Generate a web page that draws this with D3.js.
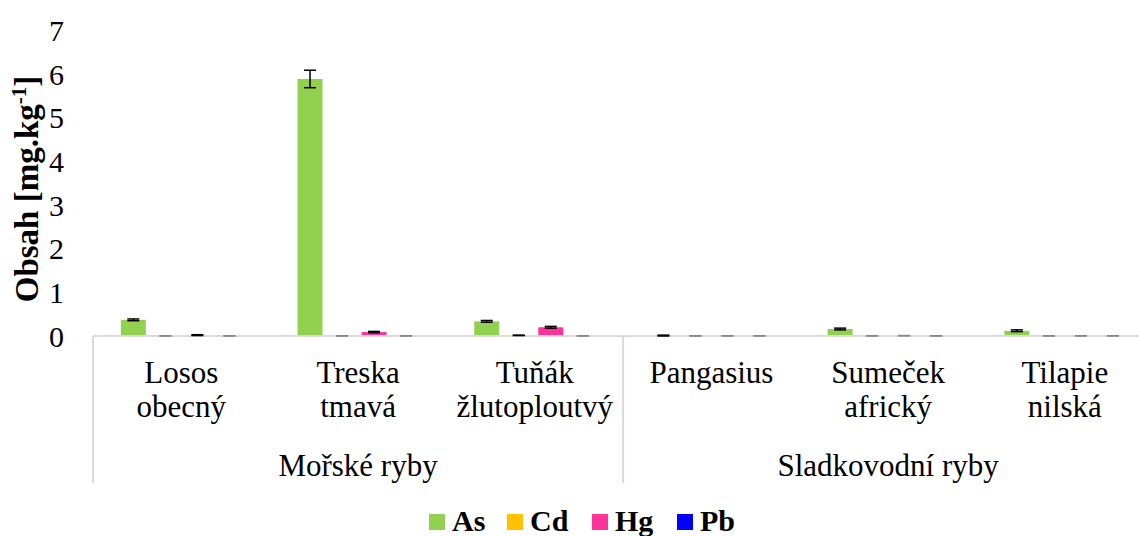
<!DOCTYPE html>
<html>
<head>
<meta charset="utf-8">
<script src="https://cdn.jsdelivr.net/npm/d3@7"></script>
<style>
  body { margin: 0; background: #fff; }
</style>
</head>
<body>
<div id="chart"></div>
<script>
// fish species (two-line labels) and their group
var fish = ["Losos obecný", "Treska tmavá", "Tuňák žlutoploutvý", "Pangasius", "Sumeček africký", "Tilapie nilská"];
var fishLines = [["Losos", "obecný"], ["Treska", "tmavá"], ["Tuňák", "žlutoploutvý"], ["Pangasius"], ["Sumeček", "africký"], ["Tilapie", "nilská"]];
var groups = ["Mořské ryby", "Sladkovodní ryby"];
var groupSize = [3, 3];

var elements = ["As", "Cd", "Hg", "Pb"];
var colors = ["#92d050", "#ffc000", "#ff3399", "#0000ff"];

// mean content [mg/kg] per element, in fish order
var asVals = [0.37, 5.88, 0.335, 0.01, 0.16, 0.12];
var cdVals = [0.004, 0.004, 0.015, 0.003, 0.004, 0.003];
var hgVals = [0.02, 0.09, 0.2, 0.004, 0.008, 0.004];
var pbVals = [0.004, 0.004, 0.004, 0.004, 0.004, 0.004];
// error (+/-)
var asErr = [0.02, 0.2, 0.02, 0.01, 0.02, 0.02];
var cdErr = [0.002, 0.002, 0.005, 0.002, 0.003, 0.002];
var hgErr = [0.01, 0.015, 0.02, 0.002, 0.003, 0.002];
var pbErr = [0.002, 0.002, 0.002, 0.002, 0.002, 0.002];

var yTicks = [0, 1, 2, 3, 4, 5, 6, 7];

var width = 1139, height = 536;
var left = 93, axisY = 336, plotTop = 30;
var catW = 176.7;

// pick the first serif face that is really installed
function hasFont(name) {
    var c = document.createElement("canvas").getContext("2d");
    var s = "Losos obecný Wim 0123";
    c.font = "30px monospace";
    var base = c.measureText(s).width;
    c.font = "30px '" + name + "', monospace";
    return c.measureText(s).width !== base;
}
var serifFaces = ["Liberation Serif", "Times New Roman", "Tinos", "DejaVu Serif", "Noto Serif", "FreeSerif", "Times"];
var face = serifFaces.filter(hasFont)[0];
var serif = face ? "'" + face + "', serif" : "serif";

var svg = d3.select("#chart").append("svg")
    .attr("width", width)
    .attr("height", height)
    .style("font-family", serif);

var values = [asVals, cdVals, hgVals, pbVals];
var errors = [asErr, cdErr, hgErr, pbErr];

var x0 = d3.scaleBand()
    .domain(fish)
    .range([left, left + catW * fish.length])
    .padding(0);

var x1 = d3.scaleBand()
    .domain(elements)
    .range([0, x0.bandwidth()])
    .paddingInner(0.22)
    .paddingOuter(0.87);

var y = d3.scaleLinear()
    .domain([0, 7])
    .range([axisY, plotTop]);

// y tick labels (no axis line)
svg.selectAll(".ytick")
    .data(yTicks)
    .enter().append("text")
    .attr("class", "ytick")
    .attr("x", left - 29)
    .attr("y", function (d) { return y(d); })
    .attr("dy", "0.36em")
    .attr("text-anchor", "end")
    .style("font-size", "30px")
    .text(function (d) { return d; });

// y title
svg.append("text")
    .attr("transform", "translate(38," + ((axisY + plotTop) / 2 + 6) + ") rotate(-90)")
    .attr("text-anchor", "middle")
    .style("font-size", "33px")
    .style("font-weight", "bold")
    .html('Obsah [mg.kg<tspan dy="-12" style="font-size:21px">-1</tspan><tspan dy="12">]</tspan>');

// bars
var rows = [];
fish.forEach(function (f, i) {
    elements.forEach(function (e, j) {
        rows.push({fish: f, el: e, value: values[j][i], err: errors[j][i], color: colors[j]});
    });
});

svg.selectAll(".bar")
    .data(rows)
    .enter().append("rect")
    .attr("class", "bar")
    .attr("x", function (d) { return x0(d.fish) + x1(d.el); })
    .attr("y", function (d) { return y(d.value); })
    .attr("width", x1.bandwidth())
    .attr("height", function (d) { return axisY - y(d.value); })
    .style("fill", function (d) { return d.color; });

// x axis line
svg.append("line")
    .attr("x1", left).attr("x2", width)
    .attr("y1", axisY).attr("y2", axisY)
    .style("stroke", "#d9d9d9")
    .style("stroke-width", 2);

// error bars
var eb = svg.selectAll(".err")
    .data(rows)
    .enter().append("g")
    .attr("class", "err")
    .attr("transform", function (d) { return "translate(" + (x0(d.fish) + x1(d.el) + x1.bandwidth() / 2) + ",0)"; })
    .style("stroke", function (d) { return d.value < 0.01 ? "#888" : "#000"; });

eb.append("line")
    .attr("x1", 0).attr("x2", 0)
    .attr("y1", function (d) { return y(d.value + d.err); })
    .attr("y2", function (d) { return y(Math.max(d.value - d.err, 0)); })
    .style("stroke-width", 1.5);

eb.selectAll(".cap")
    .data(function (d) { return [d.value + d.err, d.value - d.err]; })
    .enter().append("line")
    .attr("x1", -6).attr("x2", 6)
    .attr("y1", function (v) { return y(Math.max(v, 0)); })
    .attr("y2", function (v) { return y(Math.max(v, 0)); })
    .style("stroke-width", 1.5);

// category separators
var sepBottom = 483;
var pos = left;
var seps = [left];
groupSize.forEach(function (n) {
    pos += n * catW;
    seps.push(pos);
});
svg.selectAll(".sep")
    .data(seps)
    .enter().append("line")
    .attr("x1", function (d) { return d; })
    .attr("x2", function (d) { return d; })
    .attr("y1", axisY)
    .attr("y2", sepBottom)
    .style("stroke", "#d9d9d9")
    .style("stroke-width", 2);

// category labels
var cat = svg.selectAll(".cat")
    .data(fish)
    .enter().append("text")
    .attr("class", "cat")
    .attr("text-anchor", "middle")
    .style("font-size", "31px");

cat.selectAll("tspan")
    .data(function (d, i) {
        return fishLines[i].map(function (t) { return {t: t, f: d}; });
    })
    .enter().append("tspan")
    .attr("x", function (d) { return x0(d.f) + x0.bandwidth() / 2; })
    .attr("y", function (d, k) { return 383 + k * 34; })
    .text(function (d) { return d.t; });

// group labels
var start = 0;
groups.forEach(function (g, i) {
    var a = x0(fish[start]);
    var b = x0(fish[start + groupSize[i] - 1]) + x0.bandwidth();
    svg.append("text")
        .attr("x", (a + b) / 2)
        .attr("y", 476)
        .attr("text-anchor", "middle")
        .style("font-size", "31px")
        .text(g);
    start += groupSize[i];
});

// legend
var legX = [429, 507, 592, 677];
var leg = svg.selectAll(".leg")
    .data(elements)
    .enter().append("g")
    .attr("class", "leg")
    .attr("transform", function (d, i) { return "translate(" + legX[i] + ",514)"; });

leg.append("rect")
    .attr("width", 16)
    .attr("height", 16)
    .style("fill", function (d, i) { return colors[i]; });

leg.append("text")
    .attr("x", 23)
    .attr("y", 17)
    .style("font-size", "30px")
    .style("font-weight", "bold")
    .text(function (d) { return d; });
</script>
</body>
</html>
